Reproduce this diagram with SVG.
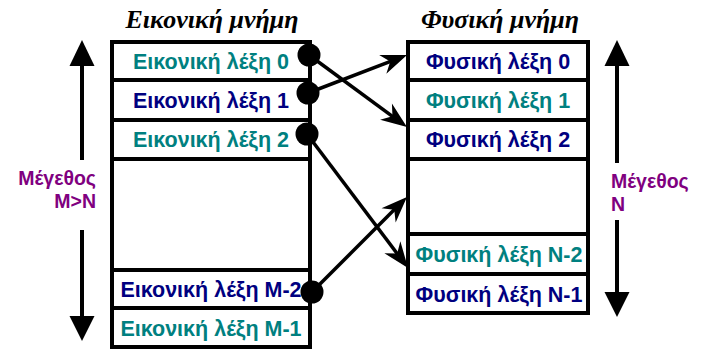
<svg xmlns="http://www.w3.org/2000/svg" width="710" height="349" viewBox="0 0 710 349">
<style>
.box{fill:#fff;stroke:#000;stroke-width:4}
.div{stroke:#000;stroke-width:4}
.t{font-family:"Liberation Sans",Arial,sans-serif;font-weight:bold;font-size:21.5px;text-anchor:middle}
.teal{fill:#008080}
.navy{fill:#000080}
.title{font-family:"Liberation Serif","Times New Roman",serif;font-weight:bold;font-style:italic;font-size:26px;text-anchor:middle;fill:#000}
.size{font-family:"Liberation Sans",Arial,sans-serif;font-weight:bold;font-size:19.5px;fill:#800080}
.conn{stroke:#000;stroke-width:3.5;fill:none}
.sz{stroke:#000;stroke-width:4}
</style>
<defs>
<marker id="ah" viewBox="-18 -12 30 24" refX="0" refY="0" markerWidth="30" markerHeight="24" markerUnits="userSpaceOnUse" orient="auto">
<path d="M10,0 L-16,-10 L-8,0 L-16,10 Z" fill="#000"/>
</marker>
</defs>
<text class="title" x="212" y="28">Εικονική μνήμη</text>
<text class="title" x="500" y="28">Φυσική μνήμη</text>
<g id="virtual">
<rect class="box" x="112" y="42" width="198" height="305"/>
<line class="div" x1="112" y1="80" x2="310" y2="80"/>
<line class="div" x1="112" y1="120" x2="310" y2="120"/>
<line class="div" x1="112" y1="159" x2="310" y2="159"/>
<line class="div" x1="112" y1="270" x2="310" y2="270"/>
<line class="div" x1="112" y1="308" x2="310" y2="308"/>
<text class="t teal" x="211" y="69">Εικονική λέξη 0</text>
<text class="t navy" x="211" y="108">Εικονική λέξη 1</text>
<text class="t teal" x="211" y="147">Εικονική λέξη 2</text>
<text class="t navy" x="211" y="297">Εικονική λέξη M-2</text>
<text class="t teal" x="211" y="336">Εικονική λέξη M-1</text>
</g>
<g id="physical">
<rect class="box" x="408" y="42" width="180" height="271"/>
<line class="div" x1="408" y1="80" x2="588" y2="80"/>
<line class="div" x1="408" y1="120" x2="588" y2="120"/>
<line class="div" x1="408" y1="159" x2="588" y2="159"/>
<line class="div" x1="408" y1="234" x2="588" y2="234"/>
<line class="div" x1="408" y1="274" x2="588" y2="274"/>
<text class="t navy" x="498" y="69">Φυσική λέξη 0</text>
<text class="t teal" x="498" y="108">Φυσική λέξη 1</text>
<text class="t navy" x="498" y="147">Φυσική λέξη 2</text>
<text class="t teal" x="499" y="262">Φυσική λέξη N-2</text>
<text class="t navy" x="499" y="302">Φυσική λέξη N-1</text>
</g>
<g id="size-left">
<line class="sz" x1="82" y1="62" x2="82" y2="160"/>
<polygon points="82,40 69.5,66 94.5,66" fill="#000"/>
<line class="sz" x1="82" y1="230" x2="82" y2="320"/>
<polygon points="82,341 69.5,316 94.5,316" fill="#000"/>
<text class="size" x="96" y="185" text-anchor="end">Μέγεθος</text>
<text class="size" x="96" y="208" text-anchor="end">M&gt;N</text>
</g>
<g id="size-right">
<line class="sz" x1="617" y1="62" x2="617" y2="163"/>
<polygon points="617,40 604.5,66 629.5,66" fill="#000"/>
<line class="sz" x1="617" y1="220" x2="617" y2="296"/>
<polygon points="617,317 604.5,292 629.5,292" fill="#000"/>
<text class="size" x="611" y="188">Μέγεθος</text>
<text class="size" x="611" y="211">N</text>
</g>
<g id="connectors">
<line class="conn" x1="309" y1="55" x2="398.9" y2="121.1" marker-end="url(#ah)"/>
<line class="conn" x1="308" y1="93" x2="397.7" y2="58.6" marker-end="url(#ah)"/>
<line class="conn" x1="307" y1="134" x2="402" y2="260" marker-end="url(#ah)"/>
<line class="conn" x1="312" y1="292" x2="399.9" y2="204.1" marker-end="url(#ah)"/>
<circle cx="309" cy="55" r="11.5"/>
<circle cx="308" cy="93" r="11.5"/>
<circle cx="307" cy="134" r="11.5"/>
<circle cx="312" cy="292" r="11.5"/>
</g>
</svg>
